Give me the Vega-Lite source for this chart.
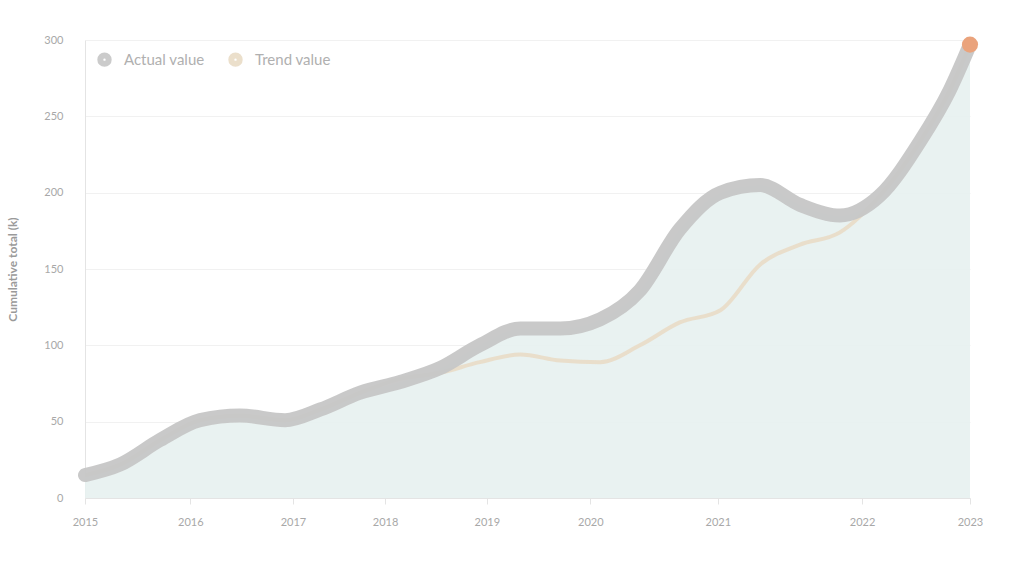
{
  "$schema": "https://vega.github.io/schema/vega-lite/v6.json",
  "width": 885,
  "height": 458,
  "autosize": {"type": "none"},
  "padding": {"left": 85, "top": 40, "right": 54, "bottom": 78},
  "background": "#ffffff",
  "config": {
    "view": {"stroke": null},
    "font": "Lato",
    "axis": {"labelColor": "#a8a8a8", "titleColor": "#9a9a9a", "labelFontSize": 11, "domainColor": "#e4e4e4", "tickColor": "#e4e4e4", "gridColor": "#f1f1f1"}
  },
  "data": {
    "values": [
      {"x": 0, "value": 15, "series": "Actual value"},
      {"x": 4, "value": 22, "series": "Actual value"},
      {"x": 8.5, "value": 38, "series": "Actual value"},
      {"x": 13, "value": 51, "series": "Actual value"},
      {"x": 17.5, "value": 54, "series": "Actual value"},
      {"x": 22.6, "value": 51, "series": "Actual value"},
      {"x": 26.6, "value": 58, "series": "Actual value"},
      {"x": 31.1, "value": 69, "series": "Actual value"},
      {"x": 35.6, "value": 76, "series": "Actual value"},
      {"x": 40.1, "value": 85, "series": "Actual value"},
      {"x": 44.6, "value": 100, "series": "Actual value"},
      {"x": 49.2, "value": 111, "series": "Actual value"},
      {"x": 53.7, "value": 111, "series": "Actual value"},
      {"x": 58.2, "value": 117, "series": "Actual value"},
      {"x": 62.7, "value": 136, "series": "Actual value"},
      {"x": 67.2, "value": 176, "series": "Actual value"},
      {"x": 71.8, "value": 200, "series": "Actual value"},
      {"x": 76.3, "value": 205, "series": "Actual value"},
      {"x": 80.8, "value": 192, "series": "Actual value"},
      {"x": 85.3, "value": 185, "series": "Actual value"},
      {"x": 89.8, "value": 198, "series": "Actual value"},
      {"x": 94.4, "value": 234, "series": "Actual value"},
      {"x": 97.7, "value": 267, "series": "Actual value"},
      {"x": 100, "value": 297, "series": "Actual value"},
      {"x": 0, "value": 15, "series": "Trend value"},
      {"x": 4, "value": 22, "series": "Trend value"},
      {"x": 8.5, "value": 38, "series": "Trend value"},
      {"x": 13, "value": 51, "series": "Trend value"},
      {"x": 17.5, "value": 54, "series": "Trend value"},
      {"x": 22.6, "value": 51, "series": "Trend value"},
      {"x": 26.6, "value": 58, "series": "Trend value"},
      {"x": 31.1, "value": 69, "series": "Trend value"},
      {"x": 35.6, "value": 78, "series": "Trend value"},
      {"x": 40.1, "value": 82, "series": "Trend value"},
      {"x": 44.6, "value": 89, "series": "Trend value"},
      {"x": 49.2, "value": 94, "series": "Trend value"},
      {"x": 53.7, "value": 90, "series": "Trend value"},
      {"x": 58.2, "value": 89, "series": "Trend value"},
      {"x": 62.7, "value": 100, "series": "Trend value"},
      {"x": 67.2, "value": 115, "series": "Trend value"},
      {"x": 71.8, "value": 123, "series": "Trend value"},
      {"x": 76.3, "value": 153, "series": "Trend value"},
      {"x": 80.8, "value": 166, "series": "Trend value"},
      {"x": 85.3, "value": 174, "series": "Trend value"},
      {"x": 89.8, "value": 198, "series": "Trend value"},
      {"x": 94.4, "value": 234, "series": "Trend value"},
      {"x": 97.7, "value": 267, "series": "Trend value"},
      {"x": 100, "value": 297, "series": "Trend value"}
    ]
  },
  "encoding": {
    "x": {
      "field": "x",
      "type": "quantitative",
      "scale": {"domain": [0, 100], "nice": false, "zero": false},
      "axis": {
        "title": null,
        "grid": false,
        "values": [0, 11.9, 23.5, 33.9, 45.4, 57.1, 71.5, 87.8, 100],
        "labelExpr": "['2015','2016','2017','2018','2019','2020','2021','2022','2023'][indexof([0, 11.9, 23.5, 33.9, 45.4, 57.1, 71.5, 87.8, 100], datum.value)]",
        "labelFlush": false,
        "labelPadding": 12,
        "tickSize": 6
      }
    },
    "y": {
      "field": "value",
      "type": "quantitative",
      "scale": {"domain": [0, 300], "nice": false},
      "axis": {
        "title": "Cumulative total (k)",
        "titleFontSize": 12,
        "titlePadding": 24,
        "values": [0, 50, 100, 150, 200, 250, 300],
        "ticks": false,
        "labelPadding": 22,
        "grid": true
      }
    }
  },
  "layer": [
    {
      "transform": [{"filter": "datum.series === 'Actual value'"}],
      "mark": {"type": "area", "interpolate": "monotone", "color": "#e7f1f0", "opacity": 0.9}
    },
    {
      "transform": [{"filter": "datum.series === 'Trend value'"}],
      "mark": {"type": "line", "interpolate": "monotone", "strokeWidth": 4, "opacity": 0.9},
      "encoding": {
        "color": {
          "field": "series",
          "type": "nominal",
          "scale": {"domain": ["Actual value", "Trend value"], "range": ["#c6c6c6", "#e9dcc6"]},
          "legend": {
            "title": null,
            "orient": "top-left",
            "direction": "horizontal",
            "offset": 12,
            "symbolType": "circle",
            "symbolSize": 70,
            "symbolStrokeWidth": 6,
            "labelFontSize": 15,
            "labelColor": "#b0b0b0",
            "labelOffset": 12,
            "columnPadding": 14
          }
        }
      }
    },
    {
      "transform": [{"filter": "datum.series === 'Actual value'"}],
      "mark": {"type": "line", "interpolate": "monotone", "strokeWidth": 14, "strokeCap": "round", "opacity": 0.95},
      "encoding": {
        "color": {"field": "series", "type": "nominal"}
      }
    },
    {
      "transform": [{"filter": "datum.series === 'Actual value' && datum.x === 100"}],
      "mark": {"type": "point", "filled": true, "size": 260, "color": "#eaa37c", "opacity": 1}
    }
  ]
}
